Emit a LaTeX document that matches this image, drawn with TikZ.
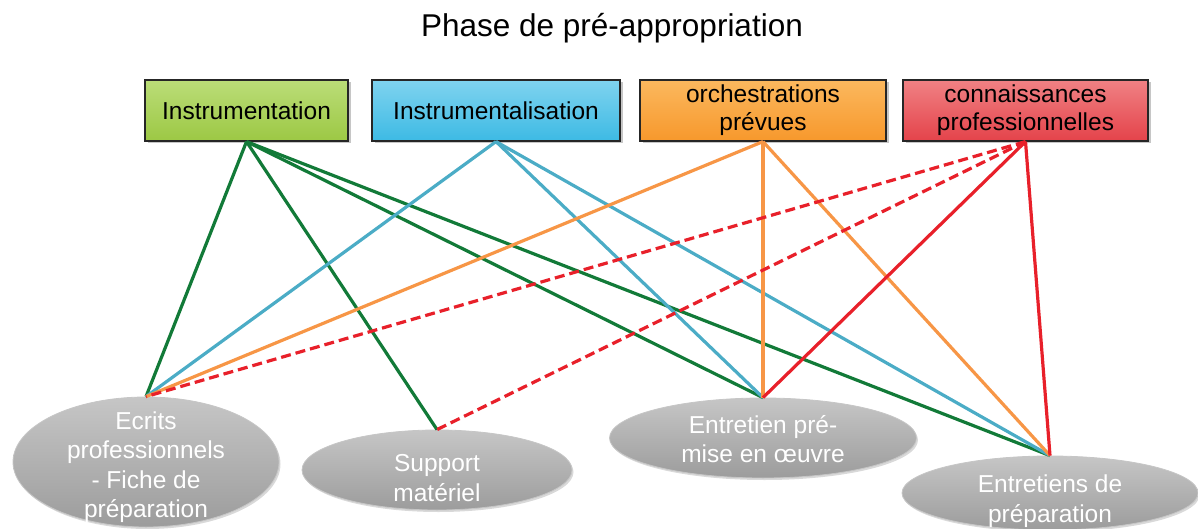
\documentclass[tikz,border=0pt]{standalone}
\usepackage{fontspec}
\setmainfont{Liberation Sans}
\usetikzlibrary{shapes.geometric,shadows}
\definecolor{boxgreenT}{HTML}{BBDD78}
\definecolor{boxgreenB}{HTML}{9CC844}
\definecolor{boxblueT}{HTML}{7FD3EF}
\definecolor{boxblueB}{HTML}{3DBAE4}
\definecolor{boxorT}{HTML}{FBB85E}
\definecolor{boxorB}{HTML}{F7982C}
\definecolor{boxredT}{HTML}{F08184}
\definecolor{boxredB}{HTML}{E4434A}
\definecolor{lgreen}{HTML}{127A38}
\definecolor{lblue}{HTML}{4BACC6}
\definecolor{lorange}{HTML}{F79646}
\definecolor{lred}{HTML}{E8202A}
\definecolor{ellT}{HTML}{C6C6C6}
\definecolor{ellM}{HTML}{A9A9A9}
\definecolor{ellB}{HTML}{9C9C9C}
\begin{document}
\begin{tikzpicture}[x=1pt,y=-1pt,
  topbox/.style={draw=black!85, line width=1.2pt, minimum height=61pt, inner sep=0pt,
    align=center, font=\fontsize{24.5}{28}\selectfont,
    drop shadow={shadow xshift=2.5pt, shadow yshift=-2.5pt, opacity=0.45}},
  ellnode/.style={ellipse, inner sep=0pt, draw=gray!45, line width=0.8pt,
    top color=ellT, middle color=ellM, bottom color=ellB,
    drop shadow={shadow xshift=1.5pt, shadow yshift=-2pt, opacity=0.3}},
  elltext/.style={text=white, align=center, inner sep=0pt,
    font=\fontsize{24.5}{29.5}\selectfont},
  conn/.style={line width=3.2pt},
  dashconn/.style={line width=3.2pt, dash pattern=on 10pt off 5pt}]
\useasboundingbox (0,0) rectangle (1198,529);
% title
\node[font=\fontsize{31.5}{36}\selectfont, anchor=base] (title) at (612,37) {Phase de pré-appropriation};
% top boxes
\node[topbox, minimum width=203pt, top color=boxgreenT, bottom color=boxgreenB] (instr) at (246.5,110.5) {Instrumentation};
\node[topbox, minimum width=248pt, top color=boxblueT, bottom color=boxblueB] (instal) at (496,110.5) {Instrumentalisation};
\node[topbox, minimum width=246pt, top color=boxorT, bottom color=boxorB] (orch) at (763,110.5) {orchestrations\\prévues};
\node[topbox, minimum width=245pt, top color=boxredT, bottom color=boxredB] (conn) at (1025.5,110.5) {connaissances\\professionnelles};
% bottom ellipses
\node[ellnode, minimum width=266pt, minimum height=130pt] (ecrits) at (146,462) {};
\node[ellnode, minimum width=270pt, minimum height=80pt] (support) at (437,470) {};
\node[ellnode, minimum width=307pt, minimum height=80pt] (premise) at (763,438) {};
\node[ellnode, minimum width=296pt, minimum height=74pt] (prep) at (1050,493) {};
\node[elltext] (ecritsT) at ([yshift=-5pt]ecrits.center) {Ecrits\\professionnels\\- Fiche de\\préparation};
\node[elltext] (supportT) at ([yshift=-8pt]support.center) {Support\\matériel};
\node[elltext] (premiseT) at ([yshift=-1pt]premise.center) {Entretien pré-\\mise en œuvre};
\node[elltext] (prepT) at ([yshift=-8pt]prep.center) {Entretiens de\\préparation};
% green connectors
\draw[conn, lgreen] (instr.south) -- (ecrits.north);
\draw[conn, lgreen] (instr.south) -- (support.north);
\draw[conn, lgreen] (instr.south) -- (premise.north);
\draw[conn, lgreen] (instr.south) -- (prep.north);
% blue connectors
\draw[conn, lblue] (instal.south) -- (ecrits.north);
\draw[conn, lblue] (instal.south) -- (premise.north);
\draw[conn, lblue] (instal.south) -- (prep.north);
% orange connectors
\draw[conn, lorange] (orch.south) -- (ecrits.north);
\draw[conn, lorange] (orch.south) -- (premise.north);
\draw[conn, lorange] (orch.south) -- (prep.north);
% red connectors
\draw[dashconn, lred] (conn.south) -- (ecrits.north);
\draw[dashconn, lred] (conn.south) -- (support.north);
\draw[conn, lred] (conn.south) -- (premise.north);
\draw[conn, lred] (conn.south) -- (prep.north);
\end{tikzpicture}
\end{document}
